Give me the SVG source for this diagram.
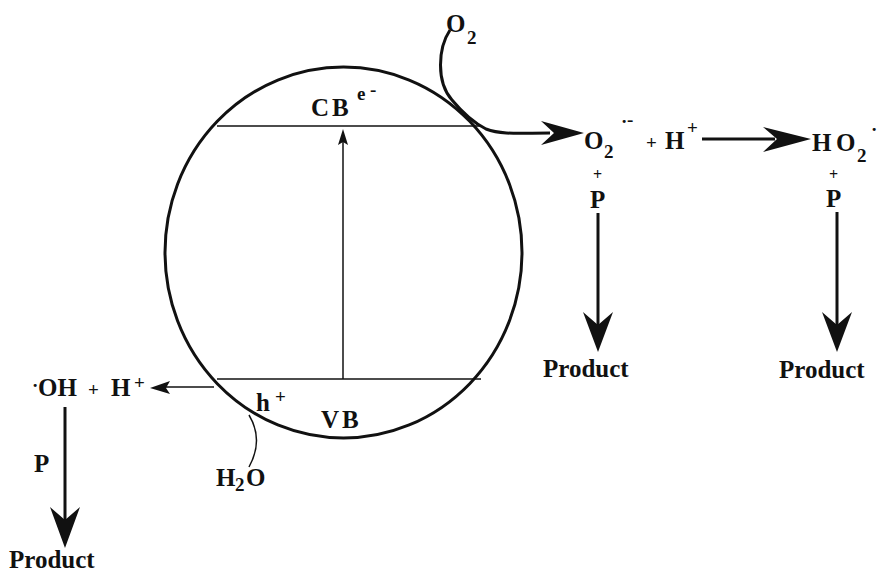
<svg xmlns="http://www.w3.org/2000/svg" width="880" height="574" viewBox="0 0 880 574">
<style>
.t{font-family:"Liberation Serif","Times New Roman",serif;font-weight:bold;fill:#111}
.b{font-size:25px}
.s{font-size:19px}
.p{font-size:16px}
.thin{fill:none;stroke:#111;stroke-width:1.5}
.thick{fill:none;stroke:#111;stroke-width:3}
.head{fill:#111}
</style>
<rect width="880" height="574" fill="#fff"/>
<g id="particle">
<ellipse cx="343.5" cy="252.5" rx="178.5" ry="185.5" fill="none" stroke="#111" stroke-width="3"/>
<line x1="217" y1="126" x2="481" y2="126" stroke="#111" stroke-width="1.5"/>
<line x1="217" y1="379" x2="481" y2="379" stroke="#111" stroke-width="1.5"/>
<text class="t b" x="311" y="116" letter-spacing="3">CB</text>
<text class="t s" x="357" y="100">e</text><text class="t s" x="370" y="96">-</text>
<text class="t b" x="321" y="428" letter-spacing="3">VB</text>
<text class="t b" x="256" y="411">h</text><text class="t s" x="275" y="403">+</text>
</g>
<g id="o2-top"><text class="t b" x="446" y="32">O</text><text class="t s" x="467" y="44">2</text></g>
<g id="superoxide">
<text class="t b" x="584" y="149">O</text><text class="t s" x="604" y="158">2</text>
<text class="t s" x="621" y="128">·</text><text class="t s" x="627" y="126">-</text>
<text class="t s" x="646" y="149">+</text>
<text class="t b" x="665" y="149">H</text><text class="t s" x="687" y="134">+</text>
<text class="t p" x="593" y="180">+</text>
<text class="t b" x="590" y="208">P</text>
<text class="t b" x="543" y="377">Product</text>
</g>
<g id="ho2">
<text class="t b" x="812" y="151">H</text><text class="t b" x="836" y="151">O</text>
<text class="t s" x="857" y="162">2</text><text class="t s" x="871" y="136">·</text>
<text class="t p" x="829" y="180">+</text>
<text class="t b" x="826" y="207">P</text>
<text class="t b" x="779" y="378">Product</text>
</g>
<g id="oh">
<text class="t s" x="32" y="392">·</text>
<text class="t b" x="38" y="396">OH</text>
<text class="t s" x="88" y="396">+</text>
<text class="t b" x="111" y="396">H</text><text class="t s" x="134" y="389">+</text>
<text class="t b" x="34" y="472">P</text>
<text class="t b" x="9" y="568">Product</text>
</g>
<g id="h2o">
<text class="t b" x="216" y="486">H</text><text class="t s" x="235" y="491">2</text><text class="t b" x="246" y="486">O</text>
</g>
<g id="connectors">
<line x1="343" y1="379" x2="343" y2="140" stroke="#111" stroke-width="1.5"/>
<path class="head" d="M343,129 L348,145 L343,142 L338,145 Z"/>
<path class="thick" d="M450,30 C438,48 436,82 452,100 C462,112 472,122 486,129 C502,135 520,133 550,133"/>
<path class="head" d="M584,133 L541,121 L554,133 L541,145 Z"/>
<line x1="702" y1="139" x2="775" y2="139" stroke="#111" stroke-width="3"/>
<path class="head" d="M811,139 L763,127 L777,139 L763,152 Z"/>
<line x1="598" y1="213" x2="598" y2="325" stroke="#111" stroke-width="3"/>
<path class="head" d="M598,352 L583,312 L598,325 L613,312 Z"/>
<line x1="837" y1="212" x2="837" y2="325" stroke="#111" stroke-width="3"/>
<path class="head" d="M837,352 L822,312 L837,325 L852,312 Z"/>
<line x1="65" y1="407" x2="65" y2="520" stroke="#111" stroke-width="3"/>
<path class="head" d="M65,548 L50,507 L65,520 L80,507 Z"/>
<line x1="214" y1="387" x2="165" y2="387" stroke="#111" stroke-width="1.5"/>
<path class="head" d="M150,388 L170,381 L166,388 L170,394 Z"/>
<path class="thin" d="M249,415 Q264,440 249,467"/>
</g>
</svg>
